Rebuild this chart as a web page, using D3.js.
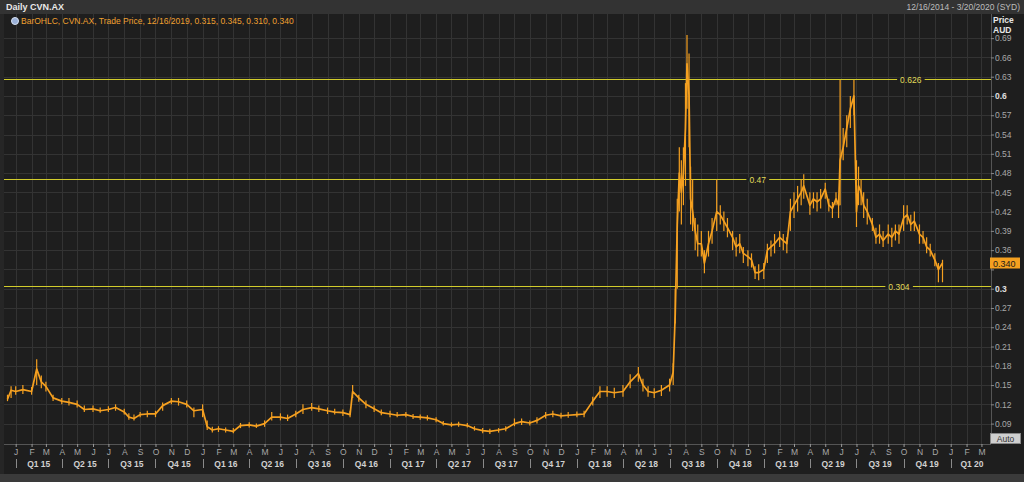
<!DOCTYPE html>
<html><head><meta charset="utf-8">
<script src="https://cdn.jsdelivr.net/npm/d3@7/dist/d3.min.js"></script>
<style>
html,body{margin:0;padding:0;background:#262626;}
svg{display:block;font-family:"Liberation Sans",Arial,sans-serif;}
</style></head>
<body><svg id="c" width="1024" height="482"></svg>
<script>
// ---- data ----
const dates = ["2014-12-16","2014-12-23","2015-01-01","2015-01-15","2015-02-01","2015-02-11","2015-02-20","2015-03-01","2015-03-15","2015-04-01","2015-04-15","2015-05-01","2015-05-15","2015-06-01","2015-06-15","2015-07-01","2015-07-15","2015-08-01","2015-08-10","2015-08-20","2015-09-01","2015-09-15","2015-10-01","2015-10-15","2015-11-01","2015-11-15","2015-12-01","2015-12-15",
"2016-01-01","2016-01-10","2016-01-20","2016-02-01","2016-02-15","2016-03-01","2016-03-15","2016-04-01","2016-04-15","2016-05-01","2016-05-15","2016-06-01","2016-06-15","2016-07-01","2016-07-15","2016-08-01","2016-08-15","2016-09-01","2016-09-15","2016-10-01","2016-10-15","2016-10-20","2016-11-01","2016-11-15","2016-12-01","2016-12-15",
"2017-01-01","2017-01-15","2017-02-01","2017-02-15","2017-03-01","2017-03-15","2017-04-01","2017-04-15","2017-05-01","2017-05-15","2017-06-01","2017-06-15","2017-07-01","2017-07-15","2017-08-01","2017-08-15","2017-09-01","2017-09-15","2017-10-01","2017-10-15","2017-11-01","2017-11-15","2017-12-01","2017-12-15",
"2018-01-01","2018-01-15","2018-02-01","2018-02-15","2018-03-01","2018-03-15","2018-04-01","2018-04-15","2018-05-01","2018-05-10","2018-05-20","2018-06-01","2018-06-15","2018-07-01","2018-07-08","2018-07-12","2018-07-16","2018-07-20","2018-07-24","2018-07-28","2018-08-01","2018-08-04","2018-08-08","2018-08-11","2018-08-15","2018-08-20","2018-08-25","2018-09-01","2018-09-07","2018-09-15","2018-09-22","2018-10-01","2018-10-08","2018-10-15","2018-10-22","2018-11-01","2018-11-08","2018-11-15","2018-11-22","2018-12-01","2018-12-08","2018-12-15","2018-12-22",
"2019-01-01","2019-01-08","2019-01-15","2019-01-22","2019-02-01","2019-02-08","2019-02-15","2019-02-22","2019-03-01","2019-03-08","2019-03-15","2019-03-20","2019-04-01","2019-04-08","2019-04-15","2019-04-22","2019-05-01","2019-05-08","2019-05-15","2019-05-22","2019-05-27","2019-05-30","2019-06-05","2019-06-12","2019-06-19","2019-06-26","2019-07-01","2019-07-05","2019-07-10","2019-07-15","2019-07-22","2019-08-01","2019-08-08","2019-08-15","2019-08-22","2019-09-01","2019-09-08","2019-09-15","2019-09-22","2019-10-01","2019-10-08","2019-10-15","2019-10-22","2019-11-01","2019-11-08","2019-11-15","2019-11-22","2019-12-01","2019-12-08","2019-12-16"];
const closes = [0.128,0.142,0.140,0.143,0.140,0.175,0.155,0.148,0.130,0.125,0.123,0.120,0.112,0.113,0.110,0.112,0.115,0.108,0.100,0.098,0.104,0.105,0.105,0.118,0.125,0.124,0.120,0.110,
0.112,0.085,0.080,0.082,0.080,0.078,0.087,0.088,0.086,0.090,0.100,0.100,0.098,0.105,0.112,0.115,0.113,0.110,0.108,0.107,0.104,0.140,0.130,0.120,0.113,0.107,
0.105,0.103,0.104,0.101,0.100,0.099,0.096,0.090,0.088,0.089,0.087,0.082,0.079,0.078,0.080,0.082,0.090,0.093,0.091,0.095,0.103,0.105,0.102,0.103,
0.104,0.105,0.125,0.140,0.140,0.138,0.140,0.155,0.168,0.150,0.140,0.138,0.142,0.150,0.170,0.260,0.400,0.480,0.450,0.480,0.550,0.650,0.600,0.440,0.420,0.390,0.370,0.370,0.340,0.370,0.390,0.420,0.415,0.405,0.395,0.380,0.365,0.370,0.355,0.350,0.345,0.325,0.325,
0.330,0.360,0.365,0.370,0.380,0.375,0.370,0.420,0.430,0.440,0.450,0.460,0.430,0.440,0.435,0.440,0.455,0.430,0.425,0.440,0.430,0.500,0.520,0.550,0.580,0.600,0.420,0.460,0.450,0.430,0.420,0.400,0.380,0.385,0.375,0.385,0.380,0.390,0.385,0.410,0.415,0.400,0.405,0.385,0.380,0.365,0.360,0.345,0.330,0.340];
const lows = [0.125,0.130,0.135,0.136,0.135,0.150,0.145,0.140,0.125,0.120,0.118,0.115,0.108,0.108,0.107,0.108,0.110,0.104,0.096,0.095,0.100,0.100,0.100,0.110,0.120,0.118,0.115,0.100,
0.100,0.080,0.076,0.077,0.076,0.075,0.083,0.084,0.083,0.085,0.095,0.095,0.094,0.100,0.105,0.110,0.108,0.105,0.104,0.102,0.100,0.130,0.124,0.114,0.108,0.103,
0.100,0.100,0.100,0.097,0.096,0.095,0.092,0.087,0.085,0.085,0.084,0.079,0.075,0.074,0.076,0.078,0.086,0.088,0.087,0.090,0.098,0.100,0.098,0.099,
0.100,0.100,0.118,0.130,0.132,0.130,0.132,0.145,0.155,0.140,0.132,0.130,0.133,0.140,0.150,0.246,0.300,0.420,0.400,0.430,0.460,0.580,0.520,0.400,0.390,0.360,0.350,0.350,0.324,0.350,0.370,0.390,0.400,0.390,0.380,0.360,0.350,0.355,0.340,0.335,0.333,0.315,0.313,
0.315,0.340,0.350,0.355,0.365,0.360,0.355,0.390,0.410,0.420,0.430,0.440,0.415,0.425,0.420,0.425,0.440,0.420,0.410,0.430,0.410,0.430,0.500,0.520,0.550,0.570,0.396,0.430,0.430,0.410,0.400,0.390,0.370,0.370,0.365,0.370,0.365,0.375,0.370,0.390,0.400,0.390,0.390,0.370,0.370,0.355,0.350,0.335,0.310,0.310];
const highs = [0.135,0.148,0.148,0.150,0.147,0.190,0.165,0.155,0.135,0.130,0.130,0.126,0.118,0.118,0.115,0.117,0.120,0.113,0.106,0.104,0.108,0.110,0.110,0.123,0.130,0.130,0.126,0.115,
0.120,0.095,0.085,0.086,0.084,0.083,0.091,0.092,0.090,0.095,0.108,0.106,0.104,0.110,0.120,0.122,0.118,0.115,0.113,0.112,0.110,0.150,0.135,0.126,0.118,0.112,
0.110,0.108,0.108,0.105,0.104,0.103,0.100,0.094,0.092,0.093,0.091,0.086,0.083,0.082,0.083,0.086,0.098,0.098,0.095,0.100,0.108,0.110,0.107,0.108,
0.109,0.110,0.132,0.148,0.148,0.146,0.150,0.167,0.178,0.160,0.148,0.145,0.150,0.160,0.184,0.300,0.440,0.520,0.500,0.520,0.620,0.695,0.666,0.490,0.470,0.410,0.400,0.390,0.360,0.390,0.410,0.470,0.430,0.420,0.410,0.390,0.380,0.385,0.365,0.360,0.355,0.335,0.338,
0.340,0.370,0.375,0.385,0.390,0.385,0.380,0.440,0.450,0.460,0.470,0.478,0.450,0.450,0.450,0.455,0.465,0.440,0.435,0.450,0.440,0.625,0.550,0.570,0.600,0.625,0.500,0.490,0.470,0.450,0.440,0.410,0.395,0.400,0.390,0.400,0.395,0.400,0.400,0.430,0.430,0.415,0.420,0.400,0.390,0.380,0.370,0.355,0.340,0.345];
const levelLines = [0.626, 0.47, 0.304];
const levelLabels = ["0.626", "0.47", "0.304"];
const levelLabelDates = ["2019-10-15", "2018-12-20", "2019-09-22"];
const yTicks = [0.09,0.12,0.15,0.18,0.21,0.24,0.27,0.3,0.33,0.36,0.39,0.42,0.45,0.48,0.51,0.54,0.57,0.6,0.63,0.66,0.69];
const monthLetters = ["J","F","M","A","M","J","J","A","S","O","N","D"];
const quarterNames = ["Q1","Q2","Q3","Q4"];
const lastValue = 0.340;
const titleText = "Daily CVN.AX";
const rangeText = "12/16/2014 - 3/20/2020 (SYD)";
const legendText = "BarOHLC, CVN.AX, Trade Price, 12/16/2019, 0.315, 0.345, 0.310, 0.340";

// ---- layout ----
const svg = d3.select("#c");
const L = 4, R = 991, T = 14, B = 444;
const parse = d3.utcParse("%Y-%m-%d");
const x = d3.scaleUtc().domain([parse("2015-01-01"), parse("2020-01-01")]).range([15.7, 950.7]);
const y = d3.scaleLinear().domain([0.3, 0.63]).range([288.7, 76.7]);
const ORANGE = "#f5a020", YEL = "#d2cc2c";

svg.append("rect").attr("width",1024).attr("height",482).attr("fill","#262626");
svg.append("rect").attr("x",0).attr("y",0).attr("width",1024).attr("height",T).attr("fill","#333333");
svg.append("rect").attr("x",L).attr("y",T).attr("width",R-L).attr("height",B-T).attr("fill","#1e1e1e");
svg.append("rect").attr("x",R).attr("y",T).attr("width",1024-R).attr("height",B-T).attr("fill","#1e1e1e");
svg.append("rect").attr("x",L).attr("y",B).attr("width",1024-L).attr("height",474-B).attr("fill","#1e1e1e");

const plot = svg.append("g");
plot.append("clipPath").attr("id","clip").append("rect").attr("x",L).attr("y",T).attr("width",R-L).attr("height",B-T);

// grid
const months = d3.utcMonth.range(parse("2015-01-01"), parse("2020-04-01"));
plot.append("g").selectAll("line").data(months).join("line")
  .attr("x1",d=>Math.round(x(d))+0.5).attr("x2",d=>Math.round(x(d))+0.5)
  .attr("y1",T).attr("y2",B).attr("stroke","#333333").attr("stroke-width",1);
plot.append("g").selectAll("line").data(yTicks).join("line")
  .attr("x1",L).attr("x2",R).attr("y1",d=>Math.round(y(d))+0.5).attr("y2",d=>Math.round(y(d))+0.5)
  .attr("stroke","#333333").attr("stroke-width",1);

// level lines
levelLines.forEach((v,i)=>{
  const yy = Math.round(y(v))+0.5;
  plot.append("line").attr("x1",L).attr("x2",R).attr("y1",yy).attr("y2",yy).attr("stroke",YEL).attr("stroke-width",1);
  const cx = x(parse(levelLabelDates[i]));
  const t = plot.append("text").attr("x",cx).attr("y",yy+3).attr("text-anchor","middle")
    .attr("font-size",8.5).attr("fill","#e0db5a").text(levelLabels[i]);
  const bb = t.node().getBBox();
  plot.insert("rect", "text:last-child").attr("x",bb.x-3).attr("y",yy-2).attr("width",bb.width+6).attr("height",4).attr("fill","#1e1e1e");
});

// price bars and line
const data = dates.map((d,i)=>({d:parse(d), c:closes[i], lo:lows[i], hi:highs[i]}));
const pg = plot.append("g").attr("clip-path","url(#clip)");
pg.selectAll("line.bar").data(data).join("line").attr("class","bar")
  .attr("x1",d=>x(d.d)).attr("x2",d=>x(d.d)).attr("y1",d=>y(d.lo)).attr("y2",d=>y(d.hi))
  .attr("stroke",ORANGE).attr("stroke-width",1.2);
pg.append("path").datum(data).attr("fill","none").attr("stroke",ORANGE).attr("stroke-width",1.7)
  .attr("stroke-linejoin","round")
  .attr("d", d3.line().x(d=>x(d.d)).y(d=>y(d.c)));

// right axis
const ya = svg.append("g").attr("transform",`translate(${R},0)`)
  .call(d3.axisRight(y).tickValues(yTicks).tickSize(3).tickFormat(d3.format(".2~f")));
ya.select(".domain").attr("stroke","#555").attr("d",`M0.5,${T}V${B}`);
ya.selectAll(".tick line").attr("stroke","#888");
ya.selectAll(".tick text").attr("x",4).attr("font-size",8.5)
  .attr("font-weight",d=>(d===0.3||d===0.6)?"bold":"normal")
  .attr("fill",d=>(d===0.3||d===0.6)?"#e0e0e0":"#a8a8a8")
  .attr("display",d=>Math.abs(d-lastValue)<0.015?"none":null);
svg.append("text").attr("x",993).attr("y",23).attr("font-size",8.5).attr("font-weight","bold").attr("fill","#e6e6e6").text("Price");
svg.append("text").attr("x",993).attr("y",33).attr("font-size",8.5).attr("font-weight","bold").attr("fill","#e6e6e6").text("AUD");

// last value box
const ly = y(lastValue);
svg.append("rect").attr("x",R-1).attr("y",ly-5.5).attr("width",30).attr("height",11).attr("fill","#f5a020");
svg.append("text").attr("x",R+2).attr("y",ly+3.5).attr("font-size",9).attr("fill","#1a1a1a").text(d3.format(".3f")(lastValue));

// Auto button
svg.append("rect").attr("x",990.5).attr("y",433.5).attr("width",30).attr("height",10).attr("fill","#cfcfcf").attr("stroke","#888");
svg.append("text").attr("x",1005.5).attr("y",442).attr("text-anchor","middle").attr("font-size",8.5).attr("fill","#333").text("Auto");

// bottom axis
const xa = svg.append("g").attr("transform",`translate(0,${B})`)
  .call(d3.axisBottom(x).tickValues(months.filter(m=>x(m)<R-4)).tickSize(3).tickFormat(d=>monthLetters[d.getUTCMonth()]));
xa.select(".domain").attr("stroke","#555").attr("d",`M${L},0.5H${R}`);
xa.selectAll(".tick line").attr("stroke","#999");
xa.selectAll(".tick text").attr("fill","#a8a8a8").attr("font-size",8.5).attr("dy","0.55em");

const quarters = d3.utcMonth.every(3).range(parse("2015-01-01"), parse("2020-04-01"));
const qg = svg.append("g");
quarters.forEach(q=>{
  const qx = Math.round(x(q))+0.5;
  qg.append("line").attr("x1",qx).attr("x2",qx).attr("y1",459).attr("y2",468).attr("stroke","#8a8a8a");
  const qEnd = d3.utcMonth.offset(q,3);
  const cx = Math.min((x(q)+x(qEnd))/2, 972);
  qg.append("text").attr("x",cx).attr("y",467).attr("text-anchor","middle").attr("font-size",8.5)
    .attr("font-weight","bold").attr("fill","#d0d0d0")
    .text(quarterNames[Math.floor(q.getUTCMonth()/3)]+" "+String(q.getUTCFullYear()).slice(2));
});

// header texts
svg.append("text").attr("x",6).attr("y",10).attr("font-size",9).attr("font-weight","bold").attr("fill","#e8e8e8").text(titleText);
svg.append("text").attr("x",1020).attr("y",10).attr("text-anchor","end").attr("font-size",8.5).attr("fill","#bdbdbd").text(rangeText);
svg.append("circle").attr("cx",15).attr("cy",21).attr("r",3.5).attr("fill","#9ab0d8").attr("stroke","#d8e2f2");
svg.append("text").attr("x",21).attr("y",24).attr("font-size",8.5).attr("fill","#f0a030").text(legendText);

// bottom strip
svg.append("rect").attr("x",0).attr("y",474).attr("width",1024).attr("height",8).attr("fill","#3a3a3a");
</script></body></html>
